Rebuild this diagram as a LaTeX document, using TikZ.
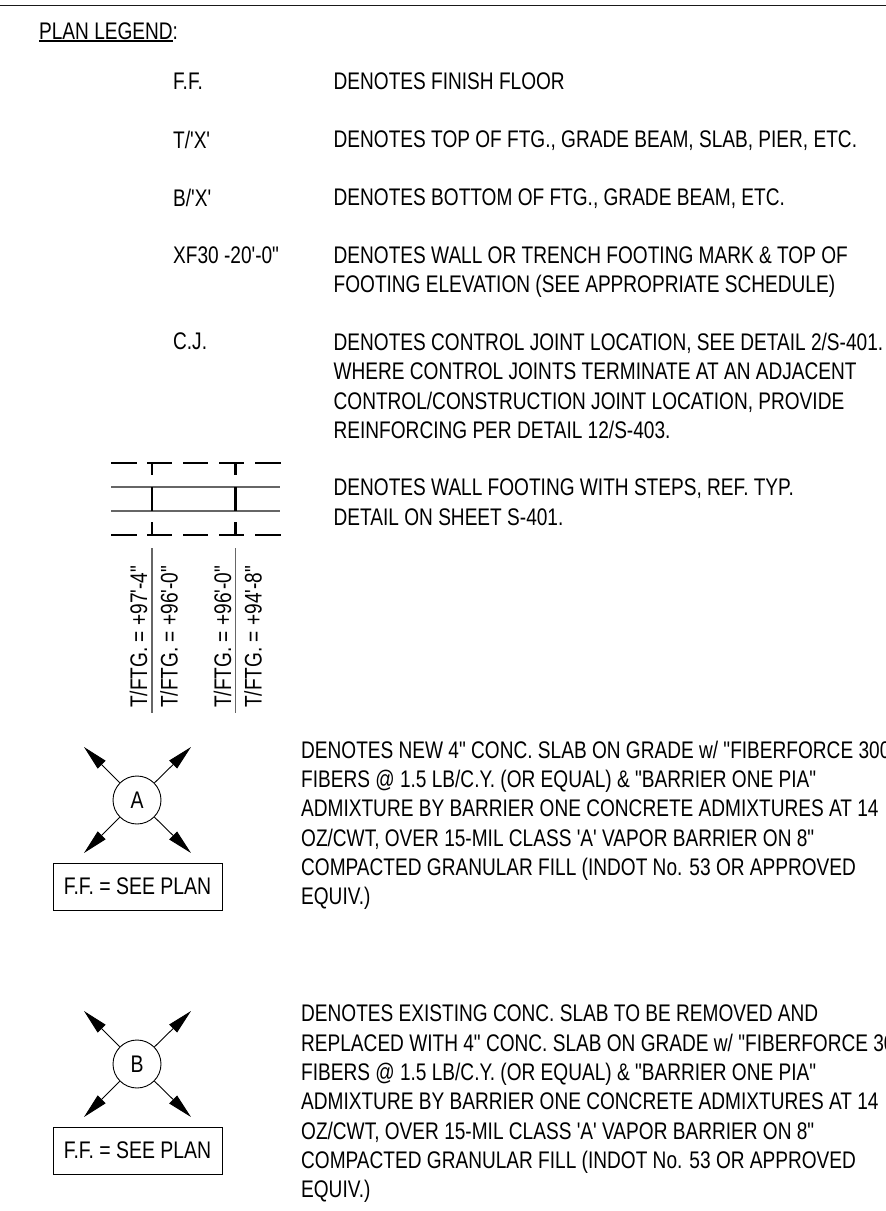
\documentclass[tikz,border=0pt]{standalone}
\usepackage{fontspec}
\setmainfont{Liberation Sans}
\newfontfamily\lib{Liberation Sans}
\usetikzlibrary{arrows.meta}
\newcommand\tp{\rule{0pt}{14pt}}
\tikzset{
  txt/.style={anchor=north west,inner sep=0pt,align=left,transform shape,xscale=0.795,font=\lib\fontsize{24}{29.3}\selectfont},
  rot/.style={anchor=base west,inner sep=0pt,transform shape,rotate=90,xscale=0.795,font=\lib\fontsize{24}{29.3}\selectfont},
  hv/.style={line width=2.4pt,black},
  thin gray/.style={line width=1.2pt,black!60},
  leader/.style={line width=0.9pt,black,-{Triangle[length=25pt,width=11pt]}},
  bubble/.style={circle,draw,line width=0.9pt,minimum size=48pt,inner sep=0pt},
  ffbox/.style={rectangle,draw,line width=0.9pt,minimum width=169pt,minimum height=47pt,inner sep=0pt},
  ctr/.style={transform shape,xscale=0.81,inner sep=0pt,font=\lib\fontsize{24}{29.3}\selectfont},
}
\begin{document}
\begin{tikzpicture}[x=1pt,y=-1pt]
\useasboundingbox (0,0) rectangle (886,1211);
\begin{scope}
\clip (0,0) rectangle (886,1211);
\fill[white] (0,0) rectangle (886,1211);
\draw[line width=1pt,black!90] (0,5) -- (886,5);
\node[txt] (legend) at (39,23) {\tp PLAN LEGEND:};
\draw[line width=1.6pt,black] (39,41) -- (173,41);
\node[txt] (k1) at (173,73) {\tp F.F.};
\node[txt] (v1) at (333.5,73) {\tp DENOTES FINISH FLOOR};
\node[txt] (k2) at (173,131) {\tp T/'X'};
\node[txt] (v2) at (333.5,131) {\tp DENOTES TOP OF FTG., GRADE BEAM, SLAB, PIER, ETC.};
\node[txt] (k3) at (173,189) {\tp B/'X'};
\node[txt] (v3) at (333.5,189) {\tp DENOTES BOTTOM OF FTG., GRADE BEAM, ETC.};
\node[txt] (k4) at (173,246.5) {\tp XF30 -20'-0"};
\node[txt] (v4) at (333.5,246.5) {\tp DENOTES WALL OR TRENCH FOOTING MARK \& TOP OF\\FOOTING ELEVATION (SEE APPROPRIATE SCHEDULE)};
\node[txt] (k5) at (173,333) {\tp C.J.};
\node[txt] (v5) at (333.5,333) {\tp DENOTES CONTROL JOINT LOCATION, SEE DETAIL 2/S-401.\\WHERE CONTROL JOINTS TERMINATE AT AN ADJACENT\\CONTROL/CONSTRUCTION JOINT LOCATION, PROVIDE\\REINFORCING PER DETAIL 12/S-403.};
\node[txt] (v6) at (333.5,479) {\tp DENOTES WALL FOOTING WITH STEPS, REF. TYP.\\DETAIL ON SHEET S-401.};
\foreach \a/\b in {111/137,147/172,183/208,219/244,255/281}{
  \draw[hv] (\a,463) -- (\b,463);
  \draw[hv] (\a,535) -- (\b,535);
}
\draw[thin gray] (111,487) -- (280,487);
\draw[thin gray] (111,511) -- (280,511);
\foreach \x in {152,235.5}{
  \draw[hv] (\x,463) -- (\x,475);
  \draw[hv] (\x,487) -- (\x,511);
  \draw[hv] (\x,522) -- (\x,535);
  \draw[thin gray] (\x,548) -- (\x,713);
}
\node[rot] (t1) at (147,708) {T/FTG. = +97'-4"};
\node[rot] (t2) at (177.5,708) {T/FTG. = +96'-0"};
\node[rot] (t3) at (231,708) {T/FTG. = +96'-0"};
\node[rot] (t4) at (261.5,708) {T/FTG. = +94'-8"};
\node[bubble] (A) at (137,800) {};
\node[ctr] (Al) at (137,800) {A};
\coordinate (a1) at (84,747);\coordinate (a2) at (191,747);\coordinate (a3) at (84,853);\coordinate (a4) at (191,853);
\foreach \c in {a1,a2,a3,a4}{\draw[leader] (A) -- (\c);}
\node[ffbox] (fa) at (137.5,886.5) {};
\node[ctr] (fal) at (137.5,886.5) {F.F. = SEE PLAN};
\node[txt] (v7) at (301,740.5) {\tp DENOTES NEW 4" CONC. SLAB ON GRADE w/ "FIBERFORCE 300"\\FIBERS @ 1.5 LB/C.Y. (OR EQUAL) \& "BARRIER ONE PIA"\\ADMIXTURE BY BARRIER ONE CONCRETE ADMIXTURES AT 14\\OZ/CWT, OVER 15-MIL CLASS 'A' VAPOR BARRIER ON 8"\\COMPACTED GRANULAR FILL (INDOT No. 53 OR APPROVED\\EQUIV.)};
\node[bubble] (B) at (137,1064) {};
\node[ctr] (Bl) at (137,1064) {B};
\coordinate (b1) at (84,1011);\coordinate (b2) at (191,1011);\coordinate (b3) at (84,1117);\coordinate (b4) at (191,1117);
\foreach \c in {b1,b2,b3,b4}{\draw[leader] (B) -- (\c);}
\node[ffbox] (fb) at (137.5,1150.5) {};
\node[ctr] (fbl) at (137.5,1150.5) {F.F. = SEE PLAN};
\node[txt] (v8) at (301,1005) {\tp DENOTES EXISTING CONC. SLAB TO BE REMOVED AND\\REPLACED WITH 4" CONC. SLAB ON GRADE w/ "FIBERFORCE 300"\\FIBERS @ 1.5 LB/C.Y. (OR EQUAL) \& "BARRIER ONE PIA"\\ADMIXTURE BY BARRIER ONE CONCRETE ADMIXTURES AT 14\\OZ/CWT, OVER 15-MIL CLASS 'A' VAPOR BARRIER ON 8"\\COMPACTED GRANULAR FILL (INDOT No. 53 OR APPROVED\\EQUIV.)};
\end{scope}
\end{tikzpicture}
\end{document}
